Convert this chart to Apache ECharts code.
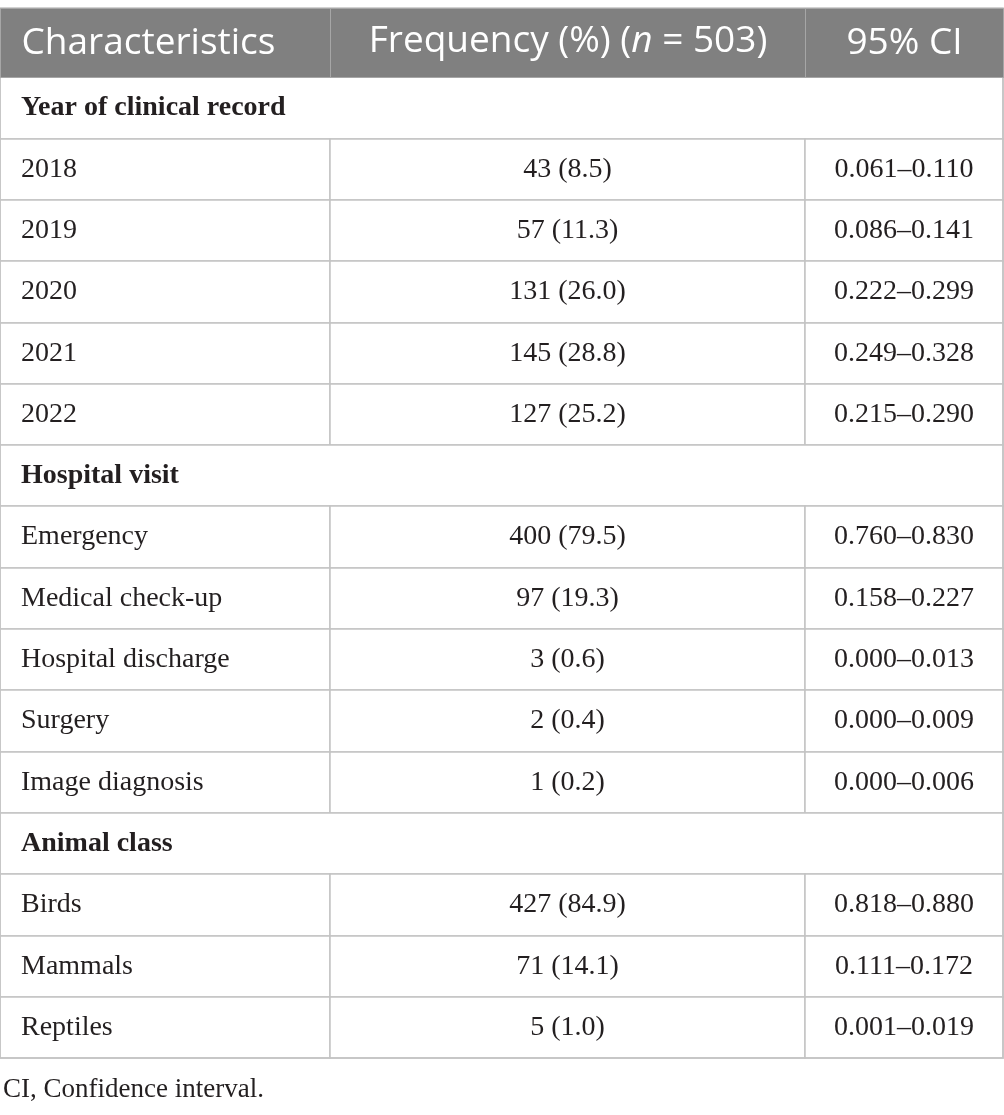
<!DOCTYPE html>
<html>
<head>
<meta charset="utf-8">
<script src="https://cdn.jsdelivr.net/npm/echarts@6/dist/echarts.min.js"></script>
<style>
  html, body { margin: 0; padding: 0; background: #fff; }
  #main { width: 1004px; height: 1115px; }
</style>
</head>
<body>
<div id="main"></div>
<script>
// table content
var columns = ['Characteristics', 'Frequency (%) (n = 503)', '95% CI'];
var sections = ['Year of clinical record', 'Hospital visit', 'Animal class'];
var rowLabels = [
  ['2018', '2019', '2020', '2021', '2022'],
  ['Emergency', 'Medical check-up', 'Hospital discharge', 'Surgery', 'Image diagnosis'],
  ['Birds', 'Mammals', 'Reptiles']
];
var counts = [
  [43, 57, 131, 145, 127],
  [400, 97, 3, 2, 1],
  [427, 71, 5]
];
var percents = [
  [8.5, 11.3, 26.0, 28.8, 25.2],
  [79.5, 19.3, 0.6, 0.4, 0.2],
  [84.9, 14.1, 1.0]
];
var ciLow = [
  [0.061, 0.086, 0.222, 0.249, 0.215],
  [0.760, 0.158, 0.000, 0.000, 0.000],
  [0.818, 0.111, 0.001]
];
var ciHigh = [
  [0.110, 0.141, 0.299, 0.328, 0.290],
  [0.830, 0.227, 0.013, 0.009, 0.006],
  [0.880, 0.172, 0.019]
];
var footnote = 'CI, Confidence interval.';

var serif = '"Liberation Serif", "DejaVu Serif", serif';
var sans = '"Open Sans", "Noto Sans", sans-serif';
var ink = '#231f20';
var headFill = '#808080';

var headRich = {
  a: { color: '#fff', fontFamily: sans, fontSize: 37, lineHeight: 62, verticalAlign: 'middle' },
  i: { color: '#fff', fontFamily: sans, fontSize: 37, lineHeight: 62, verticalAlign: 'middle', fontStyle: 'italic' }
};
var headStyle = { color: headFill, borderColor: '#a6a6a6', borderWidth: 1 };
var leftPad = { align: 'left', position: 'insideLeft', padding: [0, 0, 0, 21] };

// header row (drawn as the first body row)
var yData = [{ value: 'head', size: 69 }];
var cells = [
  {
    coord: [0, 0],
    value: columns[0],
    itemStyle: headStyle,
    label: { align: 'left', position: 'insideLeft', padding: [0, 0, 0, 21], color: '#fff', fontFamily: sans, fontSize: 37 }
  },
  {
    coord: [1, 0],
    // n in the header is italic
    value: '{a|' + columns[1].split('(n')[0] + '(}{i|n}{a|' + columns[1].split('(n')[1] + '}',
    itemStyle: headStyle,
    label: {
      color: '#fff', fontFamily: sans, fontSize: 37, lineHeight: 62,
      verticalAlign: 'middle', position: 'inside', rich: headRich
    }
  },
  {
    coord: [2, 0],
    value: columns[2],
    itemStyle: headStyle,
    label: { color: '#fff', fontFamily: sans, fontSize: 37 }
  }
];

var r = 1;
sections.forEach(function (sec, s) {
  yData.push(String(r));
  cells.push({
    coord: [[0, 2], r],
    mergeCells: true,
    value: sec,
    label: { align: 'left', position: 'insideLeft', padding: [0, 0, 0, 21], fontWeight: 'bold' }
  });
  r++;
  rowLabels[s].forEach(function (name, i) {
    yData.push(String(r));
    cells.push({ coord: [0, r], value: name, label: leftPad });
    cells.push({ coord: [1, r], value: counts[s][i] + ' (' + percents[s][i].toFixed(1) + ')' });
    cells.push({ coord: [2, r], value: ciLow[s][i].toFixed(3) + '\u2013' + ciHigh[s][i].toFixed(3) });
    r++;
  });
});

var chart = echarts.init(document.getElementById('main'));
chart.setOption({
  backgroundColor: '#fff',
  title: {
    text: footnote,
    left: -2,
    top: 1071,
    textStyle: { fontFamily: serif, fontSize: 27, fontWeight: 'normal', color: ink }
  },
  matrix: {
    left: 0,
    top: 8,
    width: 1003,
    height: 1050,
    x: {
      show: false,
      data: [
        { value: 'c0', size: 330 },
        { value: 'c1', size: 475 },
        { value: 'c2', size: 198 }
      ]
    },
    y: {
      show: false,
      data: yData
    },
    body: {
      data: cells,
      itemStyle: { color: '#fff', borderColor: '#c3c3c3', borderWidth: 1.5 },
      label: { color: ink, fontFamily: serif, fontSize: 28 }
    },
    backgroundStyle: { color: '#fff', borderColor: '#c3c3c3', borderWidth: 1.5 }
  }
});
</script>
</body>
</html>
